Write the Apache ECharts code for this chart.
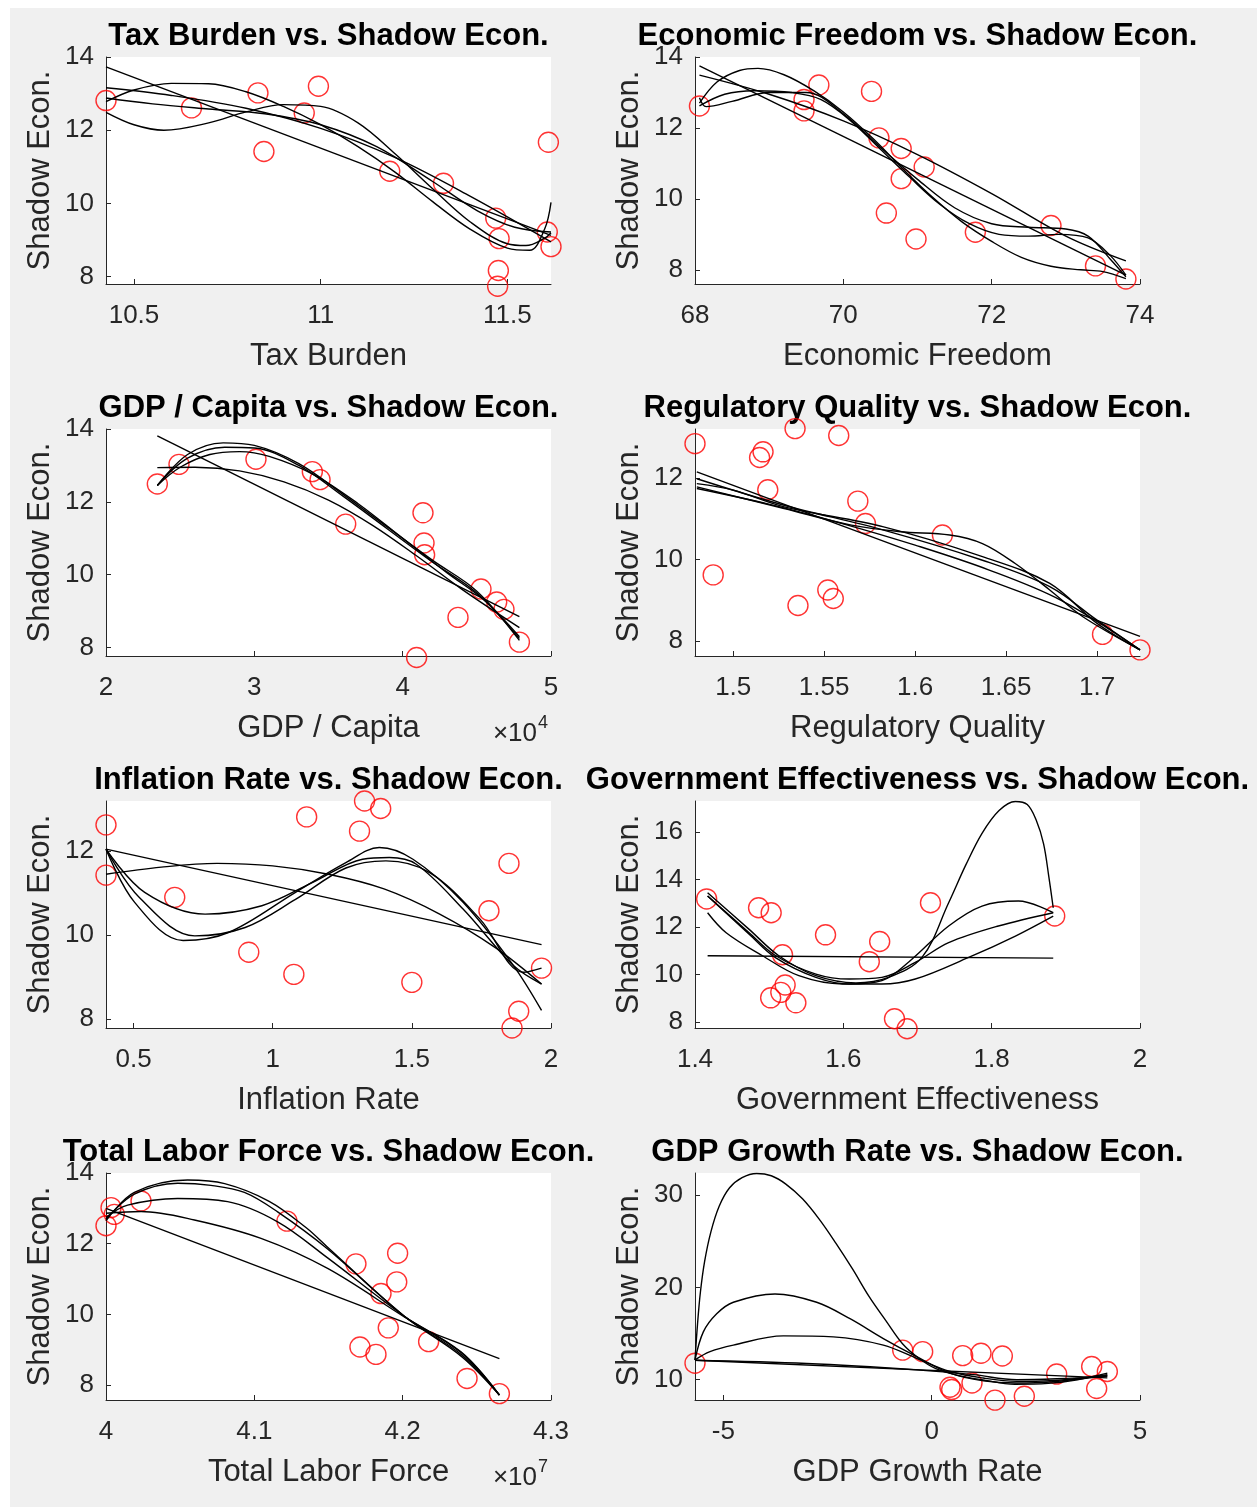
<!DOCTYPE html>
<html><head><meta charset="utf-8">
<script src="https://cdn.jsdelivr.net/npm/echarts@6/dist/echarts.min.js"></script>
<style>html,body{margin:0;padding:0;background:#fff}#c{width:1259px;height:1507px}</style>
</head><body><div id="c"></div><script>
// ---------- DATA ----------
// Panel 1: Tax Burden
const taxX = [10.425,10.654,10.832,10.848,10.994,10.956,11.185,11.329,11.469,11.478,11.476,11.474,11.610,11.607,11.617];
const taxY = [12.81,12.61,13.02,11.42,13.20,12.47,10.88,10.55,9.60,9.04,8.17,7.74,11.67,9.22,8.82];
const taxFit1 = [[10.425,13.73],[11.617,9.13]];
const taxFit2 = [[10.425,13.16],[10.6,12.95],[10.8,12.6],[11.0,12.05],[11.2,11.25],[11.4,10.2],[11.617,8.95]];
const taxFit3 = [[10.425,12.88],[10.55,12.72],[10.7,12.58],[10.85,12.45],[11.0,12.15],[11.15,11.55],[11.3,10.6],[11.42,9.8],[11.52,9.35],[11.617,9.22]];
const taxFit4 = [[10.425,12.78],[10.5,13.1],[10.6,13.28],[10.7,13.27],[10.8,13.05],[10.9,12.65],[11.0,12.15],[11.1,11.55],[11.2,10.85],[11.3,10.05],[11.4,9.3],[11.5,8.78],[11.56,8.72],[11.6,9.3],[11.617,10.03]];
const taxFit5 = [[10.425,12.49],[10.5,12.15],[10.58,12.0],[10.7,12.2],[10.8,12.5],[10.9,12.7],[11.0,12.65],[11.1,12.2],[11.2,11.35],[11.3,10.4],[11.4,9.5],[11.5,8.9],[11.55,8.85],[11.6,9.05],[11.617,9.2]];
const taxXTicks = [10.5,11,11.5];
const taxYTicks = [8,10,12,14];

// Panel 2: Economic Freedom
const efX = [68.06,69.47,69.47,69.67,70.38,70.48,70.78,71.09,70.78,70.58,70.98,71.78,72.80,73.40,73.81];
const efY = [12.62,12.80,12.48,13.21,13.03,11.72,11.42,10.90,10.57,9.60,8.87,9.06,9.25,8.11,7.74];
const efFit1 = [[68.06,13.75],[73.81,7.85]];
const efFit2 = [[68.06,13.49],[69,12.95],[70,12.2],[71,11.25],[72,10.15],[73,8.95],[73.81,8.25]];
const efFit3 = [[68.06,12.7],[68.3,13.3],[68.6,13.62],[68.85,13.68],[69.2,13.5],[69.6,13.05],[70.0,12.45],[70.4,11.7],[70.8,10.85],[71.2,10.05],[71.6,9.35],[72.0,8.8],[72.4,8.35],[72.8,8.1],[73.2,8.0],[73.5,7.95],[73.81,7.75]];
const efFit4 = [[68.06,12.62],[68.4,12.95],[68.8,13.05],[69.3,13.0],[69.7,12.8],[70.1,12.2],[70.5,11.4],[70.9,10.6],[71.3,9.85],[71.7,9.3],[72.1,9.0],[72.5,8.95],[72.9,9.0],[73.3,8.9],[73.6,8.4],[73.81,7.85]];
const efFit5 = [[68.06,12.85],[68.15,12.6],[68.5,12.75],[69.0,13.0],[69.5,13.0],[70.0,12.4],[70.5,11.45],[71.0,10.55],[71.5,9.75],[72.0,9.3],[72.5,9.2],[73.0,9.15],[73.3,8.95],[73.6,8.3],[73.81,7.8]];
const efXTicks = [68,70,72,74];
const efYTicks = [8,10,12,14];

// Panel 3: GDP / Capita
const gdpX = [23460,24920,30110,33910,34430,36160,41370,41440,41480,40940,43730,45280,46340,46830,47870];
const gdpY = [12.49,13.03,13.17,12.83,12.61,11.39,11.70,10.87,10.55,7.73,8.83,9.61,9.25,9.05,8.15];
const gdpFit1 = [[23460,13.81],[47870,8.85]];
const gdpFit2 = [[23460,12.94],[26000,12.95],[29000,12.85],[32000,12.55],[35000,12.05],[38000,11.35],[41000,10.5],[44000,9.6],[47870,8.55]];
const gdpFit3 = [[23460,12.45],[25000,12.95],[27000,13.3],[29000,13.38],[31000,13.25],[34000,12.75],[37000,11.95],[40000,11.0],[43000,10.05],[45500,9.3],[47870,8.3]];
const gdpFit4 = [[23460,12.45],[25500,13.2],[28000,13.5],[30000,13.48],[33000,13.0],[36000,12.15],[39000,11.25],[42000,10.35],[45000,9.5],[47870,8.25]];
const gdpFit5 = [[23460,12.45],[25500,13.3],[27900,13.62],[30000,13.55],[33000,13.05],[36000,12.2],[39000,11.3],[42000,10.4],[45000,9.55],[47870,8.2]];
const gdpXTicks = [20000,30000,40000,50000];
const gdpYTicks = [8,10,12,14];

// Panel 4: Regulatory Quality
const rqX = [1.479,1.489,1.5145,1.5164,1.519,1.534,1.5356,1.552,1.555,1.558,1.5685,1.5727,1.615,1.703,1.7236];
const rqY = [12.84,9.62,12.50,12.64,11.71,13.21,8.87,9.25,9.04,13.04,11.43,10.88,10.60,8.16,7.78];
const rqFit1 = [[1.48,12.15],[1.7236,8.11]];
const rqFit2 = [[1.48,11.74],[1.52,11.35],[1.56,10.88],[1.6,10.35],[1.64,9.75],[1.68,9.0],[1.7236,7.78]];
const rqFit3 = [[1.48,11.78],[1.528,11.25],[1.565,10.84],[1.592,10.68],[1.619,10.6],[1.637,10.39],[1.655,9.9],[1.674,9.25],[1.692,8.6],[1.7236,7.78]];
const rqFit4 = [[1.48,11.98],[1.528,11.33],[1.5827,10.72],[1.637,9.98],[1.674,9.33],[1.7,8.51],[1.7236,7.78]];
const rqFit5 = [[1.48,11.86],[1.5,11.7],[1.528,11.29],[1.5827,10.8],[1.637,10.07],[1.674,9.41],[1.7,8.43],[1.7236,7.78]];
const rqXTicks = [1.5,1.55,1.6,1.65,1.7];
const rqYTicks = [8,10,12];

// Panel 5: Inflation Rate
const infX = [0.401,0.401,0.648,0.914,1.076,1.122,1.312,1.330,1.388,1.500,1.777,1.849,1.884,1.860,1.966];
const infY = [12.63,11.43,10.90,9.59,9.06,12.82,12.48,13.20,13.02,8.87,10.58,11.71,8.18,7.78,9.21];
const infFit1 = [[0.401,12.05],[1.966,9.77]];
const infFit2 = [[0.401,11.45],[0.6,11.62],[0.8,11.71],[1.0,11.65],[1.2,11.45],[1.4,11.1],[1.6,10.5],[1.8,9.7],[1.966,8.83]];
const infFit3 = [[0.401,12.05],[0.54,11.02],[0.757,10.5],[0.961,10.70],[1.142,11.25],[1.323,11.81],[1.419,11.85],[1.516,11.69],[1.684,10.62],[1.865,9.27],[1.966,8.83]];
const infFit4 = [[0.401,12.05],[0.52,10.9],[0.72,9.98],[0.901,10.18],[1.082,10.85],[1.263,11.6],[1.407,11.77],[1.564,11.49],[1.745,10.38],[1.901,9.11],[1.966,9.21]];
const infFit5 = [[0.401,12.05],[0.504,10.78],[0.678,9.87],[0.841,10.06],[1.082,11.02],[1.263,11.73],[1.383,12.09],[1.504,11.81],[1.684,10.78],[1.865,9.27],[1.966,8.2]];
const infXTicks = [0.5,1,1.5,2];
const infYTicks = [8,10,12];

// Panel 6: Government Effectiveness
const geX = [1.4157,1.4857,1.5027,1.518,1.576,1.635,1.649,1.7175,1.885,1.5215,1.5157,1.502,1.536,1.669,1.686];
const geY = [13.18,12.81,12.60,10.83,11.67,10.54,11.39,13.02,12.46,9.56,9.25,9.02,8.81,8.14,7.72];
const geFit1 = [[1.417,10.79],[1.883,10.69]];
const geFit2 = [[1.417,12.6],[1.442,11.76],[1.491,10.79],[1.54,9.95],[1.599,9.6],[1.652,9.6],[1.697,9.81],[1.769,10.72],[1.832,11.62],[1.883,12.46]];
const geFit3 = [[1.417,13.3],[1.473,11.76],[1.509,10.79],[1.563,10.02],[1.608,9.81],[1.652,9.88],[1.697,10.51],[1.742,11.34],[1.809,12.04],[1.883,12.6]];
const geFit4 = [[1.417,13.3],[1.473,11.7],[1.509,10.7],[1.563,9.88],[1.608,9.6],[1.652,9.74],[1.689,10.55],[1.742,12.04],[1.787,12.88],[1.836,13.09],[1.883,12.6]];
const geFit5 = [[1.417,13.44],[1.473,11.9],[1.513,10.79],[1.563,9.95],[1.617,9.65],[1.661,9.88],[1.706,10.72],[1.742,13.02],[1.765,14.6],[1.787,15.94],[1.81,16.9],[1.832,17.28],[1.848,17.15],[1.86,16.5],[1.87,15.5],[1.877,14.13],[1.883,12.81]];
const geXTicks = [1.4,1.6,1.8,2];
const geYTicks = [8,10,12,14,16];

// Panel 7: Total Labor Force
const lfX = [40000000,40034000,40056000,40236000,41220000,41685000,41966000,41960000,41854000,41903000,41712000,41820000,42175000,42434000,42652000];
const lfY = [12.51,13.02,12.83,13.21,12.64,11.43,11.73,10.92,10.59,9.62,9.08,8.87,9.23,8.19,7.76];
const lfFit1 = [[4.0e7,13.0],[4.2652e7,8.75]];
const lfFit2 = [[4.0e7,12.86],[4.0236e7,12.91],[4.0596e7,12.67],[4.1045e7,12.15],[4.1494e7,11.30],[4.2011e7,9.93],[4.2393e7,8.94],[4.2652e7,7.72]];
const lfFit3 = [[4.0e7,12.75],[4.0146e7,13.09],[4.0483e7,13.28],[4.082e7,13.19],[4.1157e7,12.62],[4.1494e7,11.6],[4.2011e7,9.95],[4.24e7,8.9],[4.2652e7,7.72]];
const lfFit4 = [[4.0e7,12.7],[4.0191e7,13.4],[4.0483e7,13.71],[4.0708e7,13.65],[4.0933e7,13.45],[4.1157e7,12.9],[4.1494e7,11.85],[4.2011e7,9.95],[4.24e7,8.85],[4.2652e7,7.72]];
const lfFit5 = [[4.0e7,12.65],[4.0191e7,13.45],[4.055e7,13.8],[4.08e7,13.7],[4.11e7,13.2],[4.135e7,12.45],[4.1494e7,11.9],[4.2011e7,9.95],[4.24e7,8.8],[4.2652e7,7.72]];
const lfXTicks = [40000000,41000000,42000000,43000000];
const lfYTicks = [8,10,12,14];

// Panel 8: GDP Growth Rate
const ggX = [-5.68,-0.696,-0.216,0.44,0.48,0.968,0.744,1.184,1.696,1.52,2.224,3.0,3.84,3.96,4.216];
const ggY = [11.79,13.21,13.04,9.18,8.93,9.64,12.61,12.86,12.57,7.79,8.21,10.61,11.43,9.04,10.89];
const ggFit1 = [[-5.68,12.1],[4.216,10.2]];
const ggFit2 = [[-5.68,12.1],[-3,11.75],[-0.36,11.07],[1,10.55],[2.04,10.0],[3,10.1],[4.216,10.36]];
const ggFit3 = [[-5.68,12.14],[-5.32,13.04],[-4.76,13.75],[-3.56,14.75],[-2.36,14.64],[-1.16,13.75],[-0.36,12.32],[0.44,10.89],[1.24,10.18],[2.04,9.82],[2.84,9.89],[4.216,10.54]];
const ggFit4 = [[-5.68,12.14],[-5.48,15.18],[-5.16,17.14],[-4.76,18.39],[-3.76,19.29],[-2.76,18.39],[-1.96,16.61],[-1.16,14.46],[-0.36,12.5],[0.44,10.71],[1.24,9.89],[2.04,9.64],[2.84,9.75],[4.216,10.46]];
const ggFit5 = [[-5.68,12.14],[-5.62,16.0],[-5.55,19.5],[-5.45,22.8],[-5.3,26.0],[-5.1,28.8],[-4.85,30.8],[-4.55,31.9],[-4.2,32.35],[-3.85,32.1],[-3.5,31.2],[-3.1,29.6],[-2.7,27.4],[-2.3,24.8],[-1.9,22.0],[-1.5,19.0],[-1.1,16.4],[-0.7,13.9],[-0.3,12.3],[0.1,11.2],[0.6,10.5],[1.2,10.0],[2.0,9.5],[2.8,9.6],[3.5,10.0],[4.216,10.71]];
const ggXTicks = [-5,0,5];
const ggYTicks = [10,20,30];

// ---------- CHART ----------
const FONT = '"Liberation Sans", Arial, Helvetica, sans-serif';
const panels = [
  {title:'Tax Burden vs. Shadow Econ.', xName:'Tax Burden', x:taxX, y:taxY, fits:[taxFit1,taxFit2,taxFit3,taxFit4,taxFit5], xr:[10.425,11.617], yr:[7.8,14], xt:taxXTicks, yt:taxYTicks},
  {title:'Economic Freedom vs. Shadow Econ.', xName:'Economic Freedom', x:efX, y:efY, fits:[efFit1,efFit2,efFit3,efFit4,efFit5], xr:[68,74], yr:[7.6,14], xt:efXTicks, yt:efYTicks},
  {title:'GDP / Capita vs. Shadow Econ.', xName:'GDP / Capita', x:gdpX, y:gdpY, fits:[gdpFit1,gdpFit2,gdpFit3,gdpFit4,gdpFit5], xr:[20000,50000], yr:[7.77,14], xt:gdpXTicks, yt:gdpYTicks, xDiv:1e4, exp:'4'},
  {title:'Regulatory Quality vs. Shadow Econ.', xName:'Regulatory Quality', x:rqX, y:rqY, fits:[rqFit1,rqFit2,rqFit3,rqFit4,rqFit5], xr:[1.479,1.7236], yr:[7.63,13.2], xt:rqXTicks, yt:rqYTicks},
  {title:'Inflation Rate vs. Shadow Econ.', xName:'Inflation Rate', x:infX, y:infY, fits:[infFit1,infFit2,infFit3,infFit4,infFit5], xr:[0.401,2], yr:[7.78,13.2], xt:infXTicks, yt:infYTicks},
  {title:'Government Effectiveness vs. Shadow Econ.', xName:'Government Effectiveness', x:geX, y:geY, fits:[geFit1,geFit2,geFit3,geFit4,geFit5], xr:[1.4,2], yr:[7.75,17.3], xt:geXTicks, yt:geYTicks},
  {title:'Total Labor Force vs. Shadow Econ.', xName:'Total Labor Force', x:lfX, y:lfY, fits:[lfFit1,lfFit2,lfFit3,lfFit4,lfFit5], xr:[40000000,43000000], yr:[7.58,14], xt:lfXTicks, yt:lfYTicks, xDiv:1e7, exp:'7'},
  {title:'GDP Growth Rate vs. Shadow Econ.', xName:'GDP Growth Rate', x:ggX, y:ggY, fits:[ggFit1,ggFit2,ggFit3,ggFit4,ggFit5], xr:[-5.68,5], yr:[7.8,32.4], xt:ggXTicks, yt:ggYTicks}
];

const COLS = [106, 695], ROWS = [57, 429, 801, 1173], GW = 445, GH = 227;
const AX = '#262626';
const grids = [], xAxes = [], yAxes = [], series = [];
const graphics = [
  {type:'rect', shape:{x:0,y:0,width:1259,height:8}, style:{fill:'#fff'}, silent:true},
  {type:'rect', shape:{x:0,y:0,width:10,height:1507}, style:{fill:'#fff'}, silent:true},
  {type:'rect', shape:{x:1257,y:0,width:2,height:1507}, style:{fill:'#fff'}, silent:true}
];

panels.forEach((p, i) => {
  const left = COLS[i % 2], top = ROWS[Math.floor(i / 2)];
  grids.push({left, top, width: GW, height: GH, show: true, backgroundColor: '#fff', borderWidth: 0});
  const xLabel = {customValues: p.xt, margin: 19, fontFamily: FONT, fontSize: 26, color: AX};
  if (p.xDiv) xLabel.formatter = v => String(Math.round(v / p.xDiv * 100) / 100);
  xAxes.push({
    gridIndex: i, type: 'value', min: p.xr[0], max: p.xr[1],
    name: p.xName, nameLocation: 'middle', nameGap: 57,
    nameTextStyle: {fontFamily: FONT, fontSize: 31, color: AX, lineHeight: 31},
    axisLine: {show: true, onZero: false, lineStyle: {color: AX, width: 1}},
    axisTick: {show: true, inside: true, length: 5, customValues: p.xt, lineStyle: {color: AX}},
    axisLabel: xLabel, splitLine: {show: false}
  });
  yAxes.push({
    gridIndex: i, type: 'value', min: p.yr[0], max: p.yr[1],
    name: 'Shadow Econ.', nameLocation: 'middle', nameGap: 50,
    nameTextStyle: {fontFamily: FONT, fontSize: 31, color: AX, lineHeight: 31},
    axisLine: {show: true, onZero: false, lineStyle: {color: AX, width: 1}},
    axisTick: {show: true, inside: true, length: 5, customValues: p.yt, lineStyle: {color: AX}},
    axisLabel: {customValues: p.yt, margin: 12, fontFamily: FONT, fontSize: 26, color: AX},
    splitLine: {show: false}
  });
  series.push({
    type: 'scatter', xAxisIndex: i, yAxisIndex: i, clip: false,
    data: p.x.map((v, k) => [v, p.y[k]]),
    symbol: 'circle', symbolSize: 20,
    itemStyle: {color: 'rgba(0,0,0,0)', borderColor: '#ff0000', borderWidth: 1.4},
    silent: true, z: 2
  });
  p.fits.forEach(f => {
    series.push({
      type: 'line', xAxisIndex: i, yAxisIndex: i, data: f, showSymbol: false,
      smooth: 0.35, clip: true,
      lineStyle: {color: '#000', width: 1.4}, silent: true, z: 3
    });
  });
  graphics.push({type: 'text', x: left + GW / 2, y: top - 21, silent: true,
    style: {text: p.title, font: 'bold 31px ' + FONT, fill: '#000', align: 'center', verticalAlign: 'middle', textAlign: 'center', textVerticalAlign: 'middle'}});
  if (p.exp) {
    graphics.push({type: 'text', x: left + GW - 14, y: top + GH + 78, silent: true,
      style: {text: '\u00d710', font: '26px ' + FONT, fill: AX, align: 'right', verticalAlign: 'middle', textAlign: 'right', textVerticalAlign: 'middle'}});
    graphics.push({type: 'text', x: left + GW - 13, y: top + GH + 67, silent: true,
      style: {text: p.exp, font: '18px ' + FONT, fill: AX, align: 'left', verticalAlign: 'middle', textAlign: 'left', textVerticalAlign: 'middle'}});
  }
});

const chart = echarts.init(document.getElementById('c'), null, {renderer: 'canvas', width: 1259, height: 1507});
chart.setOption({
  backgroundColor: '#f0f0f0',
  animation: false,
  grid: grids, xAxis: xAxes, yAxis: yAxes, series: series,
  graphic: graphics
});
</script></body></html>
